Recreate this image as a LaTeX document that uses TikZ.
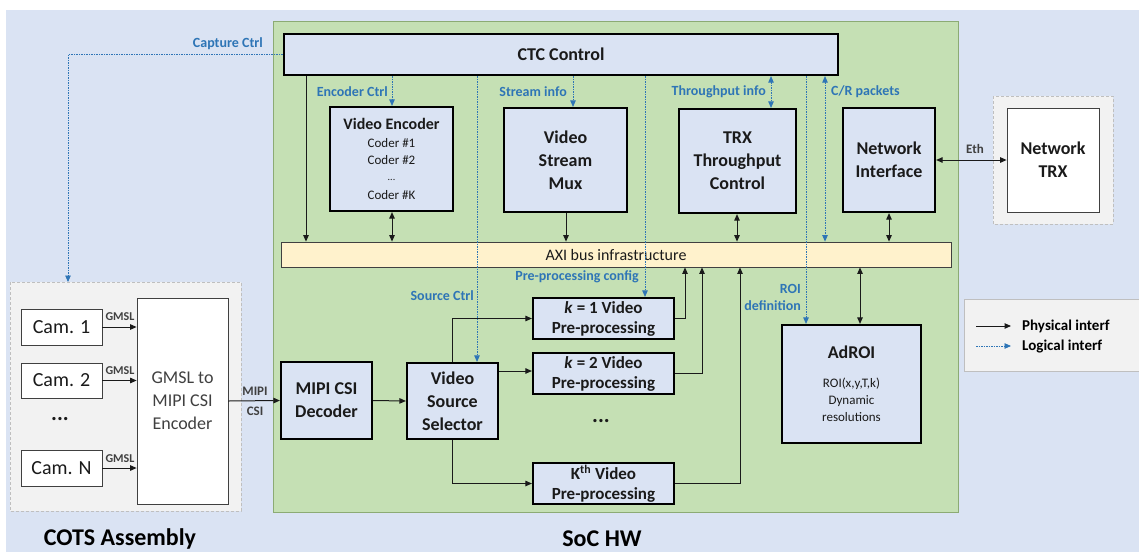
\documentclass[tikz,border=0pt]{standalone}
\usepackage{fontspec}
\setmainfont{Carlito}
\usetikzlibrary{arrows.meta}
\definecolor{bgblue}{HTML}{DAE3F3}
\definecolor{socgreen}{HTML}{C5E0B4}
\definecolor{socedge}{HTML}{8CAB74}
\definecolor{boxfill}{HTML}{DAE3F3}
\definecolor{busfill}{HTML}{FFF2CC}
\definecolor{grayfill}{HTML}{F2F2F2}
\definecolor{grayedge}{HTML}{BFBFBF}
\definecolor{logicblue}{HTML}{2E75B6}
\definecolor{ink}{HTML}{1A1A1A}
\definecolor{soft}{HTML}{404040}
\tikzset{
  block/.style={draw=black, line width=2.2pt, fill=boxfill, inner sep=2pt, align=center,
    text=ink, font=\bfseries\fontsize{18}{23}\selectfont},
  plainbox/.style={draw=soft, line width=0.8pt, fill=white, inner sep=2pt, align=center,
    text=ink, font=\fontsize{20}{24}\selectfont},
  phys/.style={draw=ink, line width=1pt, -{Triangle[width=5.5pt,length=6.5pt]}},
  physboth/.style={draw=ink, line width=1pt, {Triangle[width=5.5pt,length=6.5pt]}-{Triangle[width=5.5pt,length=6.5pt]}},
  logic/.style={draw=logicblue, line width=0.8pt, dash pattern=on 1.5pt off 1pt,
    -{Triangle[width=5.5pt,length=6.5pt]}},
  logicboth/.style={draw=logicblue, line width=0.8pt, dash pattern=on 1.5pt off 1pt,
    {Triangle[width=5.5pt,length=6.5pt]}-{Triangle[width=5.5pt,length=6.5pt]}},
  lbl/.style={text=logicblue, inner sep=0pt, font=\bfseries\fontsize{14}{16}\selectfont},
  tag/.style={text=soft, inner sep=0pt, align=center, font=\bfseries\fontsize{12}{13}\selectfont},
  title/.style={text=black, inner sep=0pt, font=\bfseries\fontsize{24}{28}\selectfont},
}
\begin{document}
\begin{tikzpicture}[x=1pt,y=-1pt]
\useasboundingbox (0,0) rectangle (1139,552);
% backgrounds
\fill[bgblue] (6,10) rectangle (1139,552);
\filldraw[fill=socgreen, draw=socedge, line width=0.8pt] (273,21) rectangle (958,512);
\filldraw[fill=grayfill, draw=grayedge, line width=0.8pt, dash pattern=on 3pt off 2pt] (10,282) rectangle (241,511);
\filldraw[fill=grayfill, draw=grayedge, line width=0.8pt, dash pattern=on 3pt off 2pt] (993,96) rectangle (1113,224);
\filldraw[fill=grayfill, draw=grayedge, line width=0.8pt] (964,299) rectangle (1142,371);

% SoC blocks
\node[block, minimum width=554pt, minimum height=41pt] (ctc) at (561,54.5) {CTC Control};
\node[block, minimum width=123pt, minimum height=104pt, font=\fontsize{13}{17.5}\selectfont] (venc) at (391.5,159)
  {{\bfseries\fontsize{16}{20}\selectfont Video Encoder}\\Coder \#1\\Coder \#2\\\raisebox{2pt}{\fontsize{10}{10}\selectfont ...}\\Coder \#K};
\node[block, minimum width=123pt, minimum height=104pt] (mux) at (565.5,160) {Video\\Stream\\Mux};
\node[block, minimum width=117pt, minimum height=104pt] (trx) at (737.5,161) {TRX\\Throughput\\Control};
\node[block, minimum width=92pt, minimum height=104pt] (netif) at (889,160) {Network\\Interface};
\node[draw=soft, line width=0.8pt, fill=white, minimum width=92pt, minimum height=104pt, align=center,
  text=ink, font=\bfseries\fontsize{18}{23}\selectfont] (nettrx) at (1053,160) {Network\\TRX};
\node[draw=soft, line width=0.8pt, fill=busfill, minimum width=670pt, minimum height=25pt, inner sep=0pt,
  text=ink, font=\fontsize{16}{18}\selectfont] (axi) at (616,254.5) {AXI bus infrastructure};
\node[block, minimum width=91pt, minimum height=77pt] (mipi) at (326.5,400.5) {MIPI CSI\\Decoder};
\node[block, minimum width=91pt, minimum height=76pt] (vss) at (452.5,401) {Video\\Source\\Selector};
\node[block, minimum width=141pt, minimum height=41pt, font=\bfseries\fontsize{17}{20}\selectfont] (k1) at (603.5,318.5)
  {\textit{k} = 1 Video\\Pre-processing};
\node[block, minimum width=141pt, minimum height=41pt, font=\bfseries\fontsize{17}{20}\selectfont] (k2) at (603.5,373.5)
  {\textit{k} = 2 Video\\Pre-processing};
\node[block, minimum width=141pt, minimum height=41pt, font=\bfseries\fontsize{17}{20}\selectfont] (kK) at (603.5,483.5)
  {K\textsuperscript{th} Video\\Pre-processing};
\node[text=ink, font=\bfseries\fontsize{22}{22}\selectfont] (kdots) at (601,421) {...};
\node[block, minimum width=139pt, minimum height=118pt, font=\fontsize{13}{17}\selectfont] (adroi) at (851.5,384)
  {{\bfseries\fontsize{18}{22}\selectfont AdROI}\\[12pt]ROI(x,y,T,k)\\Dynamic\\resolutions};

% COTS assembly
\node[plainbox, minimum width=81pt, minimum height=36pt] (cam1) at (61.5,327) {Cam. 1};
\node[plainbox, minimum width=81pt, minimum height=35pt] (cam2) at (61.5,380.5) {Cam. 2};
\node[text=ink, font=\bfseries\fontsize{22}{22}\selectfont] (camdots) at (60,419) {...};
\node[plainbox, minimum width=81pt, minimum height=36pt] (camN) at (61.5,468) {Cam. N};
\node[plainbox, minimum width=91pt, minimum height=206pt, text=soft, font=\fontsize{18}{23}\selectfont] (gmsl) at (182.5,401)
  {GMSL to\\MIPI CSI\\Encoder};

% physical links, camera side
\draw[phys] (cam1.east) -- (gmsl.west |- cam1.east);
\draw[phys] (cam2.east) -- (gmsl.west |- cam2.east);
\draw[phys] (camN.east) -- (gmsl.west |- camN.east);
\node[tag] (g1) at (120,317) {GMSL};
\node[tag] (g2) at (120,371) {GMSL};
\node[tag] (g3) at (120,459) {GMSL};
\draw[phys] (gmsl.east) -- (mipi.west);
\node[tag, font=\bfseries\fontsize{13}{20}\selectfont] (mipilbl) at (255,401) {MIPI\\CSI};
\draw[phys] (mipi.east) -- (vss.west);

% selector to pre-processing chains
\draw[phys] (vss.north) -- (vss.north |- k1.west) -- (k1.west);
\draw[phys] (vss.east |- 0,371) -- (k2.west |- 0,371);
\draw[phys] (vss.south) -- (vss.south |- kK.west) -- (kK.west);
\draw[phys] (k1.east) -- (685,318.5) -- (685,0 |- axi.south);
\draw[phys] (k2.east |- 0,373) -- (702,373) -- (702,0 |- axi.south);
\draw[phys] (kK.east) -- (740,483.5) -- (740,0 |- axi.south);

% bus attachments
\draw[phys] (306,0 |- ctc.south) -- (306,0 |- axi.north);
\draw[physboth] (392,0 |- venc.south) -- (392,0 |- axi.north);
\draw[phys] (566,0 |- mux.south) -- (566,0 |- axi.north);
\draw[physboth] (737,0 |- trx.south) -- (737,0 |- axi.north);
\draw[physboth] (889,0 |- netif.south) -- (889,0 |- axi.north);
\draw[physboth] (860,0 |- axi.south) -- (860,0 |- adroi.north);
\draw[physboth] (netif.east) -- (nettrx.west);
\node[tag, font=\bfseries\fontsize{13}{14}\selectfont] (ethlbl) at (975,149) {Eth};

% logical control paths
\draw[logic] (ctc.west) -- (68,54.5) -- (68,282);
\node[lbl, anchor=east] (capl) at (263,44) {Capture Ctrl};
\draw[logic] (392,0 |- ctc.south) -- (392,0 |- venc.north);
\node[lbl, anchor=east] (encl) at (388,92) {Encoder Ctrl};
\draw[logic] (477,0 |- ctc.south) -- (477,0 |- vss.north);
\node[lbl, anchor=east] (srcl) at (474,296) {Source Ctrl};
\draw[logic] (573,0 |- ctc.south) -- (573,0 |- mux.north);
\node[lbl, anchor=east] (strl) at (567,92) {Stream info};
\draw[logic] (645,0 |- ctc.south) -- (645,0 |- k1.north);
\node[lbl, anchor=east] (prel) at (639,277) {Pre-processing config};
\draw[logicboth] (771,0 |- ctc.south) -- (771,0 |- trx.north);
\node[lbl, anchor=east] (thrl) at (766,92) {Throughput info};
\draw[logic] (806,0 |- ctc.south) -- (806,0 |- adroi.north);
\node[lbl, anchor=east, align=right, font=\bfseries\fontsize{14}{17}\selectfont] (roil) at (801,297) {ROI\\definition};
\draw[logicboth] (825,0 |- ctc.south) -- (825,0 |- axi.north);
\node[lbl, anchor=west] (crl) at (831,92) {C/R packets};

% legend
\coordinate (lp1) at (976,326);
\coordinate (lp2) at (1011,326);
\coordinate (ll1) at (976,346);
\coordinate (ll2) at (1011,346);
\draw[phys] (lp1) -- (lp2);
\draw[logic] (ll1) -- (ll2);
\node[anchor=west, inner sep=0pt, text=black, font=\bfseries\fontsize{15}{17}\selectfont] (physl) at (1022,326) {Physical interf};
\node[anchor=west, inner sep=0pt, text=black, font=\bfseries\fontsize{15}{17}\selectfont] (logl) at (1022,346) {Logical interf};

% captions
\node[title] (cots) at (120,539) {COTS Assembly};
\node[title] (soc) at (602,539) {SoC HW};
\end{tikzpicture}
\end{document}
